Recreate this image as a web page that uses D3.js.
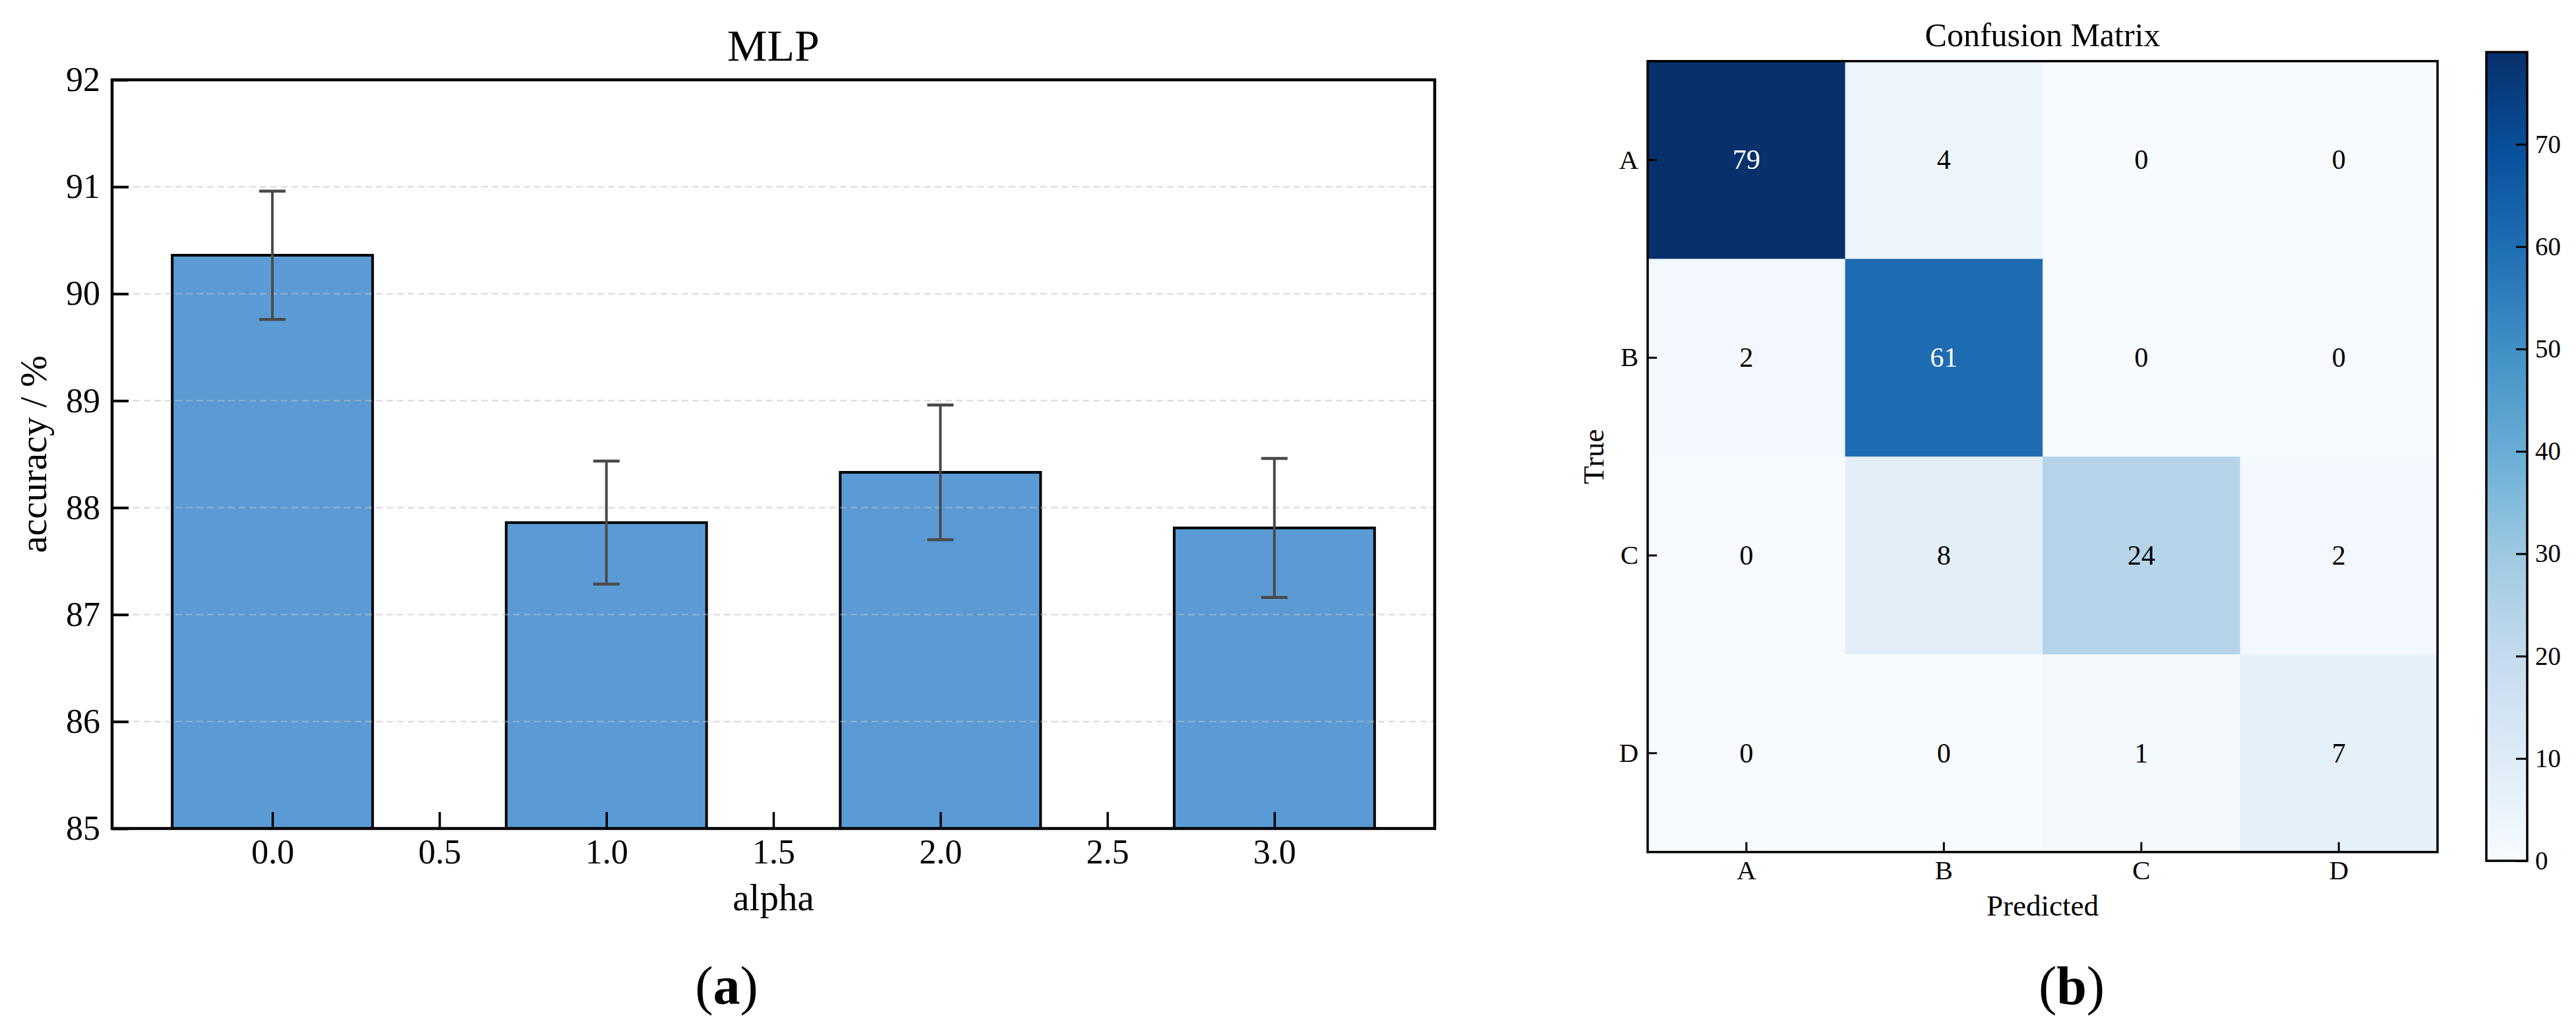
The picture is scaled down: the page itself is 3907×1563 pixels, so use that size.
<!DOCTYPE html>
<html>
<head>
<meta charset="utf-8">
<script src="https://cdn.jsdelivr.net/npm/d3@7/dist/d3.min.js"></script>
<style>
  html, body { margin: 0; padding: 0; background: #fff; }
  svg, svg text { font-family: "Liberation Serif", "Times New Roman", serif; }
  svg text { fill: #000; }
</style>
</head>
<body>
<svg id="fig" width="3907" height="1563"></svg>
<script>
// ---------- Data ----------
const alphaValues = [0.0, 1.0, 2.0, 3.0];
const accuracyMeans = [90.36, 87.86, 88.33, 87.81];
const accuracyErrors = [0.60, 0.575, 0.63, 0.65];
const xTickValues = [0.0, 0.5, 1.0, 1.5, 2.0, 2.5, 3.0];
const yTickValues = [85, 86, 87, 88, 89, 90, 91, 92];
const gridValues = [86, 87, 88, 89, 90, 91];

const classLabels = ["A", "B", "C", "D"];
const confusionRows = [
  [79, 4, 0, 0],
  [2, 61, 0, 0],
  [0, 8, 24, 2],
  [0, 0, 1, 7]
];
const colorbarTicks = [0, 10, 20, 30, 40, 50, 60, 70];
const bluesStops = ["#f7fbff","#deebf7","#c6dbef","#9ecae1","#6baed6","#4292c6","#2171b5","#08519c","#08306b"];

const SERIF = "'Liberation Serif', 'Times New Roman', serif";
const svg = d3.select("#fig");

// ---------- Panel (a): bar chart ----------
const A = { left: 170, right: 2176, top: 121, bottom: 1256 };
const x = d3.scaleLinear().domain([-0.48, 3.48]).range([A.left, A.right]);
const y = d3.scaleLinear().domain([85, 92]).range([A.bottom, A.top]);
const barW = x(0.6) - x(0);

const ga = svg.append("g");

ga.selectAll("rect.bar").data(alphaValues).join("rect")
  .attr("class", "bar")
  .attr("x", (d) => x(d) - barW / 2)
  .attr("width", barW)
  .attr("y", (d, i) => y(accuracyMeans[i]))
  .attr("height", (d, i) => y(85) - y(accuracyMeans[i]))
  .attr("fill", "#5b9bd5")
  .attr("stroke", "#000")
  .attr("stroke-width", 4);

ga.selectAll("line.grid").data(gridValues).join("line")
  .attr("x1", A.left).attr("x2", A.right)
  .attr("y1", (d) => y(d)).attr("y2", (d) => y(d))
  .attr("stroke", "#bdbdbd").attr("stroke-opacity", 0.55)
  .attr("stroke-width", 2.2).attr("stroke-dasharray", "10,6");

const capHalf = 20;
const eb = ga.selectAll("g.err").data(alphaValues).join("g").attr("class", "err");
eb.append("line")
  .attr("x1", (d) => x(d)).attr("x2", (d) => x(d))
  .attr("y1", (d, i) => y(accuracyMeans[i] + accuracyErrors[i]))
  .attr("y2", (d, i) => y(accuracyMeans[i] - accuracyErrors[i]))
  .attr("stroke", "#4a4a4a").attr("stroke-width", 4);
eb.append("line")
  .attr("x1", (d) => x(d) - capHalf).attr("x2", (d) => x(d) + capHalf)
  .attr("y1", (d, i) => y(accuracyMeans[i] + accuracyErrors[i]))
  .attr("y2", (d, i) => y(accuracyMeans[i] + accuracyErrors[i]))
  .attr("stroke", "#4a4a4a").attr("stroke-width", 4.5);
eb.append("line")
  .attr("x1", (d) => x(d) - capHalf).attr("x2", (d) => x(d) + capHalf)
  .attr("y1", (d, i) => y(accuracyMeans[i] - accuracyErrors[i]))
  .attr("y2", (d, i) => y(accuracyMeans[i] - accuracyErrors[i]))
  .attr("stroke", "#4a4a4a").attr("stroke-width", 4.5);

const yAxis = d3.axisLeft(y).tickValues(yTickValues).tickFormat(d3.format("d"))
  .tickSizeInner(-25).tickSizeOuter(0).tickPadding(18);
const gy = ga.append("g").attr("transform", `translate(${A.left},0)`).call(yAxis)
  .attr("font-family", SERIF).attr("font-size", 52);
gy.select(".domain").remove();
gy.selectAll(".tick line").attr("stroke", "#000").attr("stroke-width", 4);
gy.selectAll(".tick text").attr("font-size", 52).style("font-family", SERIF);

const xAxis = d3.axisBottom(x).tickValues(xTickValues).tickFormat(d3.format(".1f"))
  .tickSizeInner(-25).tickSizeOuter(0).tickPadding(16);
const gx = ga.append("g").attr("transform", `translate(0,${A.bottom})`).call(xAxis)
  .attr("font-family", SERIF).attr("font-size", 52);
gx.select(".domain").remove();
gx.selectAll(".tick line").attr("stroke", "#000").attr("stroke-width", 3.5);
gx.selectAll(".tick text").attr("font-size", 52).style("font-family", SERIF);

ga.append("rect")
  .attr("x", A.left).attr("y", A.top)
  .attr("width", A.right - A.left).attr("height", A.bottom - A.top)
  .attr("fill", "none").attr("stroke", "#000").attr("stroke-width", 4.5);

ga.append("text").attr("x", (A.left + A.right) / 2).attr("y", 92)
  .attr("text-anchor", "middle").attr("font-size", 68).text("MLP");
ga.append("text").attr("x", (A.left + A.right) / 2).attr("y", 1380)
  .attr("text-anchor", "middle").attr("font-size", 57).text("alpha");
ga.append("text").attr("transform", `translate(70,${(A.top + A.bottom) / 2}) rotate(-90)`)
  .attr("text-anchor", "middle").attr("font-size", 58).text("accuracy / %");

const la = ga.append("text").attr("x", 1102).attr("y", 1522)
  .attr("text-anchor", "middle").attr("font-size", 82);
la.append("tspan").text("(");
la.append("tspan").attr("font-weight", "bold").text("a");
la.append("tspan").text(")");

// ---------- Panel (b): confusion matrix ----------
const B = { left: 2499, right: 3697, top: 92.7, bottom: 1291.7 };
const cx = d3.scaleBand().domain(classLabels).range([B.left, B.right]);
const cy = d3.scaleBand().domain(classLabels).range([B.top, B.bottom]);
const vmax = d3.max(confusionRows.flat());
const color = d3.scaleLinear()
  .domain(bluesStops.map((c, i) => vmax * i / (bluesStops.length - 1)))
  .range(bluesStops).interpolate(d3.interpolateRgb).clamp(true);

const gb = svg.append("g");
const cells = [];
confusionRows.forEach((row, i) => row.forEach((v, j) => cells.push({ r: classLabels[i], c: classLabels[j], v })));

gb.selectAll("rect.cell").data(cells).join("rect")
  .attr("class", "cell")
  .attr("x", (d) => cx(d.c)).attr("y", (d) => cy(d.r))
  .attr("width", cx.bandwidth() + 0.5).attr("height", cy.bandwidth() + 0.5)
  .attr("fill", (d) => color(d.v));

gb.selectAll("text.val").data(cells).join("text")
  .attr("class", "val")
  .attr("x", (d) => cx(d.c) + cx.bandwidth() / 2)
  .attr("y", (d) => cy(d.r) + cy.bandwidth() / 2)
  .attr("dy", "0.33em")
  .attr("text-anchor", "middle").attr("font-size", 42)
  .style("fill", (d) => d.v > vmax / 2 ? "#fff" : "#000")
  .text((d) => d.v);

const cyAxis = d3.axisLeft(cy).tickSizeInner(-14).tickSizeOuter(0).tickPadding(14);
const gcy = gb.append("g").attr("transform", `translate(${B.left},0)`).call(cyAxis)
  .attr("font-family", SERIF).attr("font-size", 41);
gcy.select(".domain").remove();
gcy.selectAll(".tick line").attr("stroke", "#000").attr("stroke-width", 3);
gcy.selectAll(".tick text").attr("font-size", 41).style("font-family", SERIF);

const cxAxis = d3.axisBottom(cx).tickSizeInner(-15).tickSizeOuter(0).tickPadding(12);
const gcx = gb.append("g").attr("transform", `translate(0,${B.bottom})`).call(cxAxis)
  .attr("font-family", SERIF).attr("font-size", 41);
gcx.select(".domain").remove();
gcx.selectAll(".tick line").attr("stroke", "#000").attr("stroke-width", 3);
gcx.selectAll(".tick text").attr("font-size", 41).style("font-family", SERIF);

gb.append("rect")
  .attr("x", B.left).attr("y", B.top)
  .attr("width", B.right - B.left).attr("height", B.bottom - B.top)
  .attr("fill", "none").attr("stroke", "#000").attr("stroke-width", 3.5);

gb.append("text").attr("x", (B.left + B.right) / 2).attr("y", 70)
  .attr("text-anchor", "middle").attr("font-size", 50).text("Confusion Matrix");
gb.append("text").attr("x", (B.left + B.right) / 2).attr("y", 1388)
  .attr("text-anchor", "middle").attr("font-size", 45).text("Predicted");
gb.append("text").attr("transform", `translate(2432,${(B.top + B.bottom) / 2}) rotate(-90)`)
  .attr("text-anchor", "middle").attr("font-size", 45).text("True");

const lb = gb.append("text").attr("x", 3142).attr("y", 1522)
  .attr("text-anchor", "middle").attr("font-size", 82);
lb.append("tspan").text("(");
lb.append("tspan").attr("font-weight", "bold").text("b");
lb.append("tspan").text(")");

// colorbar
const CB = { left: 3771, right: 3833, top: 79, bottom: 1305 };
const cbY = d3.scaleLinear().domain([0, vmax]).range([CB.bottom, CB.top]);
const defs = svg.append("defs");
const grad = defs.append("linearGradient").attr("id", "cbgrad")
  .attr("x1", 0).attr("y1", 1).attr("x2", 0).attr("y2", 0);
grad.selectAll("stop").data(color.domain()).join("stop")
  .attr("offset", (d) => d / vmax)
  .attr("stop-color", (d) => color(d));
gb.append("rect").attr("x", CB.left).attr("y", CB.top)
  .attr("width", CB.right - CB.left).attr("height", CB.bottom - CB.top)
  .attr("fill", "url(#cbgrad)").attr("stroke", "#000").attr("stroke-width", 3.5);

const cbAxis = d3.axisRight(cbY).tickValues(colorbarTicks).tickFormat(d3.format("d"))
  .tickSizeInner(-17).tickSizeOuter(0).tickPadding(12);
const gcb = gb.append("g").attr("transform", `translate(${CB.right},0)`).call(cbAxis)
  .attr("font-family", SERIF).attr("font-size", 39);
gcb.select(".domain").remove();
gcb.selectAll(".tick line").attr("stroke", "#000").attr("stroke-width", 3);
gcb.selectAll(".tick text").attr("font-size", 39).style("font-family", SERIF);
</script>
</body>
</html>
